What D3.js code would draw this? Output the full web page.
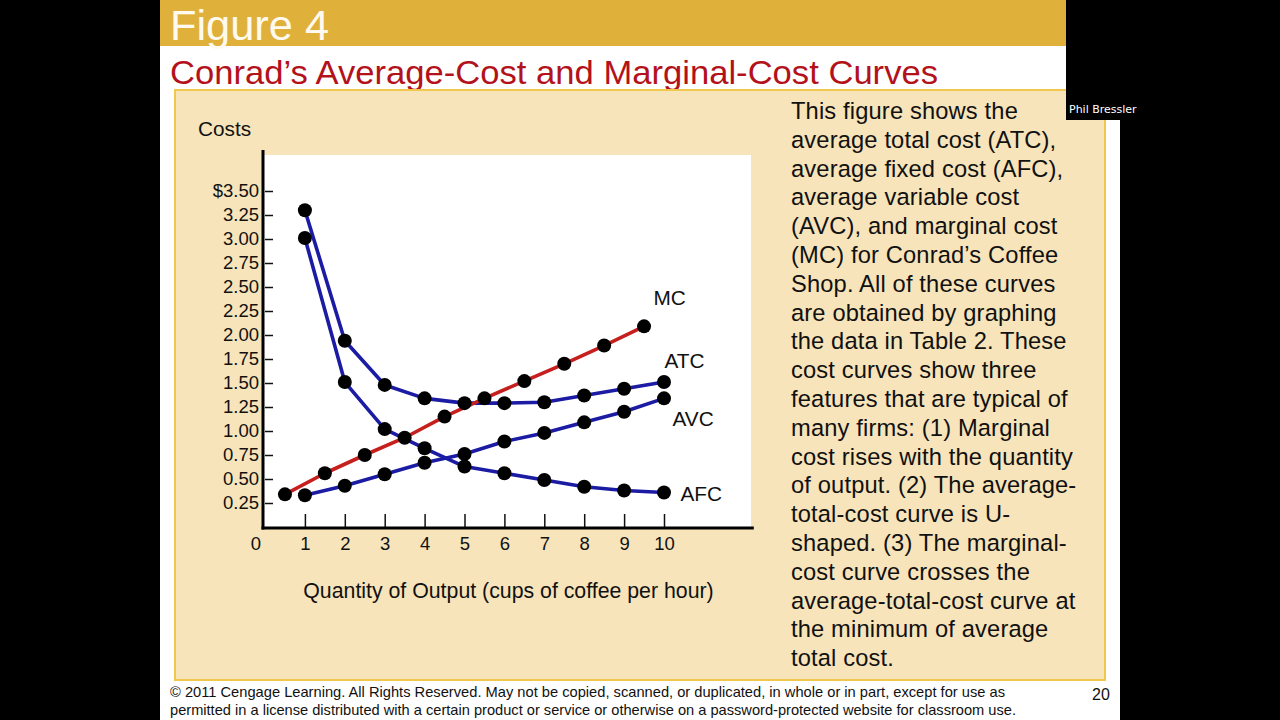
<!DOCTYPE html>
<html><head><meta charset="utf-8">
<script src="https://cdn.jsdelivr.net/npm/d3@7"></script>
<style>
html,body{margin:0;padding:0;background:#000;}
svg{display:block;font-family:"Liberation Sans",Arial,sans-serif;}
</style></head>
<body>
<svg id="c" width="1280" height="720"></svg>
<script>
// ---- data ----
const quantities = [1,2,3,4,5,6,7,8,9,10];
const mcQuantities = [0.5,1.5,2.5,3.5,4.5,5.5,6.5,7.5,8.5,9.5];
const mcValues  = [0.34,0.56,0.75,0.93,1.15,1.34,1.52,1.70,1.89,2.09];
const atcValues = [3.30,1.94,1.48,1.34,1.29,1.29,1.30,1.37,1.44,1.51];
const avcValues = [0.33,0.43,0.55,0.67,0.76,0.89,0.98,1.09,1.20,1.34];
const afcValues = [3.01,1.51,1.02,0.82,0.63,0.56,0.49,0.42,0.38,0.36];
const yTickValues = [0.25,0.5,0.75,1,1.25,1.5,1.75,2,2.25,2.5,2.75,3,3.25,3.5];
const yTickLabels = ["0.25","0.50","0.75","1.00","1.25","1.50","1.75","2.00","2.25","2.50","2.75","3.00","3.25","$3.50"];
const xTickValues = [1,2,3,4,5,6,7,8,9,10];
const xTickLabels = ["1","2","3","4","5","6","7","8","9","10"];

const paragraph = [
 "This figure shows the",
 "average total cost (ATC),",
 "average fixed cost (AFC),",
 "average variable cost",
 "(AVC), and marginal cost",
 "(MC) for Conrad\u2019s Coffee",
 "Shop. All of these curves",
 "are obtained by graphing",
 "the data in Table 2. These",
 "cost curves show three",
 "features that are typical of",
 "many firms: (1) Marginal",
 "cost rises with the quantity",
 "of output. (2) The average-",
 "total-cost curve is U-",
 "shaped. (3) The marginal-",
 "cost curve crosses the",
 "average-total-cost curve at",
 "the minimum of average",
 "total cost."
];

const svg = d3.select("#c");
const BLUE = "#1b1ba3", RED = "#c6201e";

// slide background
svg.append("rect").attr("x",0).attr("y",0).attr("width",1280).attr("height",720).attr("fill","#000");
svg.append("rect").attr("x",160).attr("y",0).attr("width",960).attr("height",720).attr("fill","#fff");
svg.append("rect").attr("x",160).attr("y",0).attr("width",906).attr("height",46).attr("fill","#dfb13b");
svg.append("text").attr("x",170).attr("y",40).attr("font-size",43).attr("fill","#fffaf0")
  .attr("textLength",159).attr("lengthAdjust","spacingAndGlyphs").text("Figure 4");
svg.append("text").attr("x",170).attr("y",84).attr("font-size",34).attr("fill","#b3121b")
  .attr("textLength",768).attr("lengthAdjust","spacingAndGlyphs")
  .text("Conrad\u2019s Average-Cost and Marginal-Cost Curves");

// beige panel
svg.append("rect").attr("x",175).attr("y",90).attr("width",930).attr("height",590)
  .attr("fill","#f7e4ba").attr("stroke","#f2c84c").attr("stroke-width",2);

// scales
const x = d3.scaleLinear().domain([0,10]).range([265,664]);
const y = d3.scaleLinear().domain([0,3.5]).range([527,191]);

// white plot area
svg.append("rect").attr("x",x(0)-1).attr("y",155).attr("width",x(12.18)-x(0)+1).attr("height",y(0)-155).attr("fill","#fff");

// axes
const yAxis = d3.axisLeft(y).tickValues(yTickValues).tickSize(-8).tickPadding(6)
  .tickFormat((d,i)=>yTickLabels[i]);
const gy = svg.append("g").attr("transform",`translate(${x(0)},0)`).call(yAxis);
gy.select(".domain").remove();
gy.selectAll("line").attr("stroke","#111").attr("stroke-width",1.5);
gy.selectAll("text").attr("font-size",18.5).attr("fill","#111").attr("font-family","Liberation Sans, Arial, sans-serif");

const xAxis = d3.axisBottom(x).tickValues(xTickValues).tickSize(-13).tickPadding(10)
  .tickFormat((d,i)=>xTickLabels[i]);
const gx = svg.append("g").attr("transform",`translate(0,${y(0)})`).call(xAxis);
gx.select(".domain").remove();
gx.selectAll("line").attr("stroke","#111").attr("stroke-width",1.5);
gx.selectAll("text").attr("font-size",18.5).attr("fill","#111").attr("font-family","Liberation Sans, Arial, sans-serif");
svg.append("text").attr("x",x(0)-9).attr("y",y(0)+23).attr("font-size",18.5).attr("text-anchor","middle").attr("fill","#111").text("0");

// axis lines
svg.append("line").attr("x1",x(0)-2).attr("x2",x(0)-2).attr("y1",150).attr("y2",y(0)+2.5).attr("stroke","#000").attr("stroke-width",3);
svg.append("line").attr("x1",x(0)-3.5).attr("x2",x(12.25)).attr("y1",y(0)+1).attr("y2",y(0)+1).attr("stroke","#000").attr("stroke-width",3);

// axis titles
svg.append("text").attr("x",198).attr("y",136).attr("font-size",20.8).attr("fill","#111").text("Costs");
svg.append("text").attr("x",508.5).attr("y",598).attr("font-size",21.3).attr("text-anchor","middle").attr("fill","#111")
  .text("Quantity of Output (cups of coffee per hour)");

// series
const series = [
  {name:"AFC", qs:quantities, vs:afcValues, color:BLUE},
  {name:"AVC", qs:quantities, vs:avcValues, color:BLUE},
  {name:"ATC", qs:quantities, vs:atcValues, color:BLUE},
  {name:"MC",  qs:mcQuantities, vs:mcValues, color:RED}
];
const line = d3.line().x(d=>x(d[0])).y(d=>y(d[1]));
series.forEach(s=>{
  const pts = s.qs.map((q,i)=>[q,s.vs[i]]);
  svg.append("path").datum(pts).attr("d",line).attr("fill","none")
    .attr("stroke",s.color).attr("stroke-width",3.6).attr("stroke-linejoin","round");
});
series.forEach(s=>{
  const pts = s.qs.map((q,i)=>[q,s.vs[i]]);
  svg.append("g").selectAll("circle").data(pts).join("circle")
    .attr("cx",d=>x(d[0])).attr("cy",d=>y(d[1])).attr("r",7).attr("fill","#000");
});

// curve labels
const labelPos = [
  {t:"MC", q:9.5, v:mcValues[9], dx:9.5, dy:-21},
  {t:"ATC", q:10, v:atcValues[9], dx:0.5, dy:-14},
  {t:"AVC", q:10, v:avcValues[9], dx:8.5, dy:28},
  {t:"AFC", q:10, v:afcValues[9], dx:16.5, dy:9}
];
labelPos.forEach(l=>{
  svg.append("text").attr("x",x(l.q)+l.dx).attr("y",y(l.v)+l.dy).attr("font-size",20.8).attr("fill","#111").text(l.t);
});

// paragraph
svg.append("g").selectAll("text").data(paragraph).join("text")
  .attr("x",791).attr("y",(d,i)=>119+i*28.8).attr("font-size",23.7).attr("letter-spacing",0.15).attr("fill","#111").text(d=>d);

// footer
svg.append("text").attr("x",170).attr("y",697).attr("font-size",14.5).attr("fill","#111")
  .attr("textLength",835).attr("lengthAdjust","spacingAndGlyphs")
  .text("\u00a9 2011 Cengage Learning. All Rights Reserved. May not be copied, scanned, or duplicated, in whole or in part, except for use as");
svg.append("text").attr("x",170).attr("y",715).attr("font-size",14.5).attr("fill","#111")
  .attr("textLength",846).attr("lengthAdjust","spacingAndGlyphs")
  .text("permitted in a license distributed with a certain product or service or otherwise on a password-protected website for classroom use.");
svg.append("text").attr("x",1092).attr("y",700).attr("font-size",16).attr("fill","#111").text("20");

// video overlay corner
svg.append("rect").attr("x",1066).attr("y",0).attr("width",214).attr("height",120).attr("fill","#000");
svg.append("text").attr("x",1069).attr("y",113).attr("font-size",11).attr("font-family","DejaVu Sans, sans-serif").attr("fill","#fff").text("Phil Bressler");
</script>
</body></html>
